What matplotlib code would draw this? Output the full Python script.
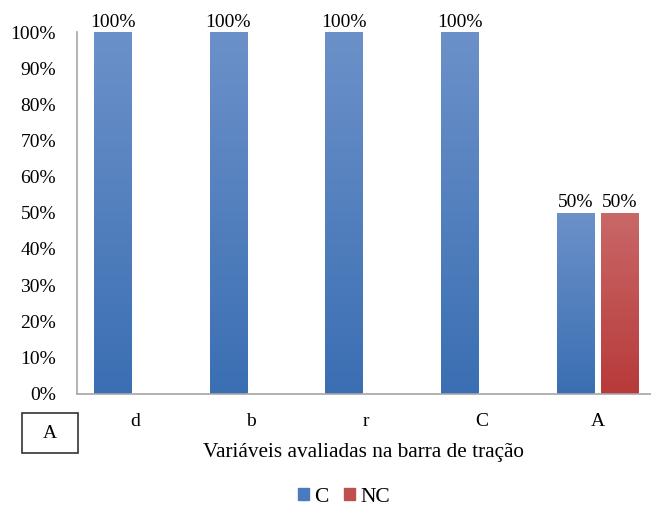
import matplotlib
matplotlib.use("Agg")
import matplotlib.pyplot as plt
import numpy as np
from matplotlib.patches import Patch, Rectangle
from matplotlib.colors import LinearSegmentedColormap

plt.rcParams['font.family'] = ['Liberation Serif', 'DejaVu Serif']

categories = ['d', 'b', 'r', 'C', 'A']
series_names = ['C', 'NC']
values_C = [100, 100, 100, 100, 50]
values_NC = [0, 0, 0, 0, 50]
yticks = [0, 10, 20, 30, 40, 50, 60, 70, 80, 90, 100]
xlabel = 'Variáveis avaliadas na barra de tração'
panel_label = 'A'

c_top, c_bot = '#6C91C9', '#3A6FB3'
nc_top, nc_bot = '#C96868', '#B83A3A'

fig = plt.figure(figsize=(6.51, 5.08), dpi=100)
ax = fig.add_axes([77/651, 114.5/508, 578.4/651, 361.5/508])

x = np.arange(len(categories))
w = 0.32
off = 0.193
bars_c = ax.bar(x - off, values_C, w, color=c_bot, zorder=2)
bars_nc = ax.bar(x + off, values_NC, w, color=nc_bot, zorder=2)

def gradient(bars, top, bot):
    cmap = LinearSegmentedColormap.from_list('g', [bot, top])
    grad = np.linspace(0, 1, 256).reshape(-1, 1)
    for b in bars:
        h = b.get_height()
        if h <= 0:
            continue
        x0 = b.get_x(); x1 = x0 + b.get_width()
        im = ax.imshow(grad, cmap=cmap, origin='lower', aspect='auto',
                       extent=[x0, x1, 0, h], zorder=3)
        im.set_clip_path(b)

gradient(bars_c, c_top, c_bot)
gradient(bars_nc, nc_top, nc_bot)

for bars in (bars_c, bars_nc):
    for b in bars:
        h = b.get_height()
        if h > 0:
            ax.annotate(f'{h:.0f}%', (b.get_x() + b.get_width()/2, h),
                        xytext=(0, 1), textcoords='offset points',
                        ha='center', va='bottom', fontsize=14)

ax.set_xlim(-0.5, len(categories) - 0.5)
ax.set_ylim(0, 100)
ax.set_yticks(yticks)
ax.set_yticklabels([f'{t}%' for t in yticks], fontsize=14)
ax.set_xticks(x)
ax.set_xticklabels(categories, fontsize=14)
ax.tick_params(axis='y', length=0, pad=15)
ax.tick_params(axis='x', length=0, pad=14)
for s in ['top', 'right']:
    ax.spines[s].set_visible(False)
for s in ['left', 'bottom']:
    ax.spines[s].set_color('#A6A6A6')
    ax.spines[s].set_linewidth(1.2)

fig.text(363/651, 1 - 453/508, xlabel, ha='center', va='center', fontsize=15.3)

fig.add_artist(Rectangle((22/651, 1 - 453/508), 56/651, 40/508,
                         transform=fig.transFigure, fill=False,
                         edgecolor='#333333', linewidth=1.2))
fig.text(50/651, 1 - 434/508, panel_label, ha='center', va='center', fontsize=14)

handles = [Patch(color='#4A7BBE'), Patch(color='#C0504D')]
fig.legend(handles, series_names, loc='center', bbox_to_anchor=(344/651, 1 - 497/508),
           ncol=2, frameon=False, fontsize=15.5, handlelength=0.5, handleheight=0.5,
           handletextpad=0.25, columnspacing=0.7)

fig.savefig('out.png', dpi=100)
